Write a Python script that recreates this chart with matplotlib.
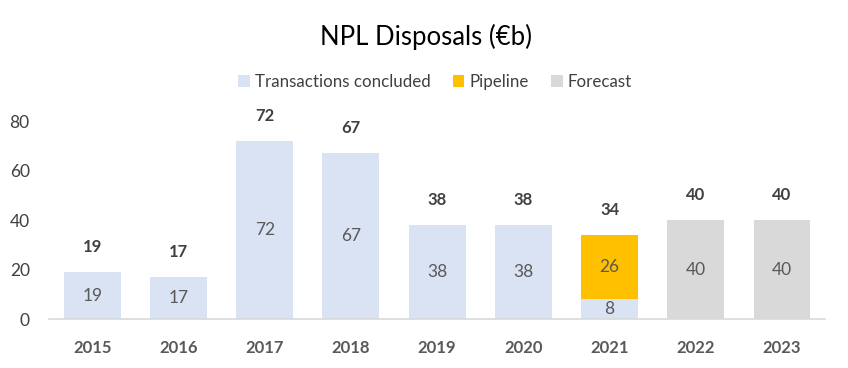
import numpy as np
import matplotlib.pyplot as plt

plt.rcParams['font.family'] = ['Lato', 'DejaVu Sans']

years = ['2015', '2016', '2017', '2018', '2019', '2020', '2021', '2022', '2023']
concluded = [19, 17, 72, 67, 38, 38, 8, 0, 0]
pipeline = [0, 0, 0, 0, 0, 0, 26, 0, 0]
forecast = [0, 0, 0, 0, 0, 0, 0, 40, 40]
totals = [19, 17, 72, 67, 38, 38, 34, 40, 40]

c_conc = '#DAE3F3'
c_pipe = '#FFC000'
c_fore = '#D9D9D9'

fig = plt.figure(figsize=(8.48, 3.68), dpi=100)
ax = fig.add_axes([0.058, 0.133, 0.915, 0.538])

x = np.arange(len(years))
w = 0.66
conc = np.array(concluded)
pipe = np.array(pipeline)
fore = np.array(forecast)

ax.bar(x, conc, w, color=c_conc, label='Transactions concluded')
ax.bar(x, pipe, w, bottom=conc, color=c_pipe, label='Pipeline')
ax.bar(x, fore, w, bottom=conc + pipe, color=c_fore, label='Forecast')

for i in range(len(years)):
    if conc[i] > 0:
        ax.text(x[i], conc[i] / 2, str(conc[i]), ha='center', va='center',
                fontsize=12.5, color='#595959')
    if pipe[i] > 0:
        ax.text(x[i], conc[i] + pipe[i] / 2, str(pipe[i]), ha='center', va='center',
                fontsize=12.5, color='#595959')
    if fore[i] > 0:
        ax.text(x[i], conc[i] + pipe[i] + fore[i] / 2, str(fore[i]), ha='center',
                va='center', fontsize=12.5, color='#595959')
    ax.text(x[i], totals[i] + 7, str(totals[i]), ha='center', va='bottom',
            fontsize=12, fontweight='bold', color='#404040', clip_on=False)

ax.set_xlim(-0.5, 8.5)
ax.set_ylim(0, 80)
ax.set_yticks([0, 20, 40, 60, 80])
ax.set_xticks(x)
ax.set_xticklabels(years, fontweight='bold', fontsize=12, color='#595959')
ax.tick_params(axis='y', labelsize=12.5, labelcolor='#404040', length=0, pad=14)
ax.tick_params(axis='x', length=0, pad=15)
for s in ['top', 'right', 'left']:
    ax.spines[s].set_visible(False)
ax.spines['bottom'].set_color('#D9D9D9')
ax.spines['bottom'].set_linewidth(1.2)

fig.text(0.502, 0.9, 'NPL Disposals (€b)', ha='center', va='center',
         fontsize=18.5, color='#000000')
fig.legend(loc='center', bbox_to_anchor=(0.513, 0.777), ncol=3, frameon=False,
           fontsize=12.2, handlelength=0.7, handleheight=0.7, handletextpad=0.3,
           columnspacing=1.3, labelcolor='#404040')

fig.savefig('out.png', dpi=100)
